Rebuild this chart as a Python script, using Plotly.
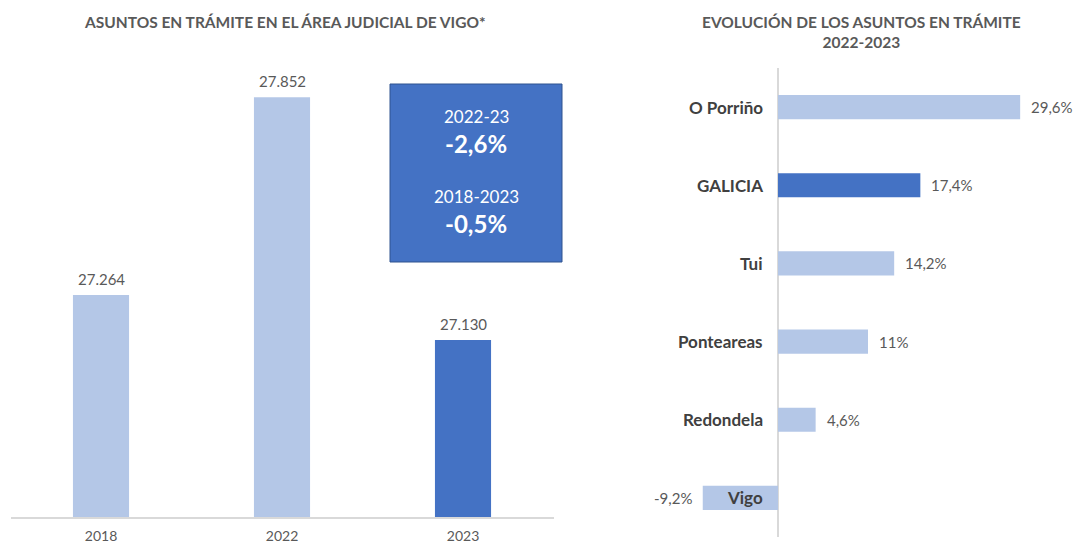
import plotly.graph_objects as go

# ---- data ----
years = ["2018", "2022", "2023"]
asuntos = [27264, 27852, 27130]
asuntos_labels = ["27.264", "27.852", "27.130"]
year_colors = ["#B4C7E7", "#B4C7E7", "#4472C4"]

partidos = ["O Porriño", "GALICIA", "Tui", "Ponteareas", "Redondela", "Vigo"]
variacion = [29.6, 17.4, 14.2, 11.0, 4.6, -9.2]
variacion_labels = ["29,6%", "17,4%", "14,2%", "11%", "4,6%", "-9,2%"]
partido_colors = ["#B4C7E7", "#4472C4", "#B4C7E7", "#B4C7E7", "#B4C7E7", "#B4C7E7"]

box_lines = [("2022-23", False), ("-2,6%", True), ("2018-2023", False), ("-0,5%", True)]

FONT = "Lato"
GRAY = "#595959"
DARK = "#404040"
W, H = 1075, 543

def px(x):
    return x / W

def py(y):
    return (H - y) / H

fig = go.Figure()

fig.add_trace(go.Bar(
    x=years, y=asuntos, marker=dict(color=year_colors, line=dict(width=0)),
    width=0.31, xaxis="x", yaxis="y", showlegend=False,
))

fig.add_trace(go.Bar(
    y=partidos, x=variacion, orientation="h",
    marker=dict(color=partido_colors, line=dict(width=0)),
    width=0.31, xaxis="x2", yaxis="y2", showlegend=False,
))

annotations = [
    dict(text="<b>ASUNTOS EN TRÁMITE EN EL ÁREA JUDICIAL DE VIGO*</b>",
         x=px(285), y=py(22), xref="paper", yref="paper", showarrow=False,
         xanchor="center", yanchor="middle", font=dict(family=FONT, size=15.5, color=GRAY)),
    dict(text="<b>EVOLUCIÓN DE LOS ASUNTOS EN TRÁMITE<br>2022-2023</b>",
         x=px(861), y=py(32), xref="paper", yref="paper", showarrow=False,
         xanchor="center", yanchor="middle", font=dict(family=FONT, size=15.5, color=GRAY)),
]

# value labels on the left chart (category axis -> use category index)
for i, (v, lab) in enumerate(zip(asuntos, asuntos_labels)):
    annotations.append(dict(text=lab, x=i, y=v, xref="x", yref="y",
                            xanchor="center", yanchor="bottom", yshift=5, showarrow=False,
                            font=dict(family=FONT, size=15, color=GRAY)))

# category & value labels on the right chart
for j, (p, v, lab) in enumerate(zip(partidos, variacion, variacion_labels)):
    annotations.append(dict(text="<b>%s</b>" % p, x=0, y=j, xref="x2", yref="y2",
                            xanchor="right", yanchor="middle", xshift=-13, showarrow=False,
                            font=dict(family=FONT, size=17, color=DARK)))
    annotations.append(dict(text=lab, x=v, y=j, xref="x2", yref="y2",
                            xanchor="left" if v >= 0 else "right", yanchor="middle",
                            xshift=9 if v >= 0 else -9, showarrow=False,
                            font=dict(family=FONT, size=15, color=GRAY)))

box_y = [116, 143, 197, 224]
for (t, bold), yy in zip(box_lines, box_y):
    annotations.append(dict(text=("<b>%s</b>" % t) if bold else t,
                            x=px(476), y=py(yy), xref="paper", yref="paper",
                            xanchor="center", yanchor="middle", showarrow=False,
                            font=dict(family=FONT, size=24 if bold else 17, color="white")))

fig.update_layout(
    width=W, height=H, margin=dict(l=0, r=0, t=0, b=0),
    paper_bgcolor="white", plot_bgcolor="white",
    font=dict(family=FONT, color=GRAY),
    xaxis=dict(domain=[px(10.5), px(553.5)], type="category", range=[-0.5, 2.5],
               showline=True, linecolor="#D9D9D9", linewidth=1.5,
               ticks="", tickfont=dict(family=FONT, size=14, color=GRAY), showgrid=False,
               ticklabelstandoff=5, anchor="y"),
    yaxis=dict(domain=[py(517), py(60)], range=[26603, 27963], visible=False, showgrid=False,
               anchor="x"),
    xaxis2=dict(domain=[px(640), px(1060)], range=[-16.87, 34.47], visible=True,
                showticklabels=False, showgrid=False, zeroline=True, zerolinecolor="#D9D9D9",
                zerolinewidth=1.5, showline=False, anchor="y2"),
    yaxis2=dict(domain=[py(537), py(68)], range=[5.5, -0.5], showticklabels=False,
                showgrid=False, showline=False, anchor="x2", type="category"),
    shapes=[dict(type="rect", xref="paper", yref="paper",
                 x0=px(390), x1=px(562), y0=py(262), y1=py(84),
                 fillcolor="#4472C4", line=dict(color="#2F528F", width=1))],
    annotations=annotations,
)

fig.write_html("out.html")
